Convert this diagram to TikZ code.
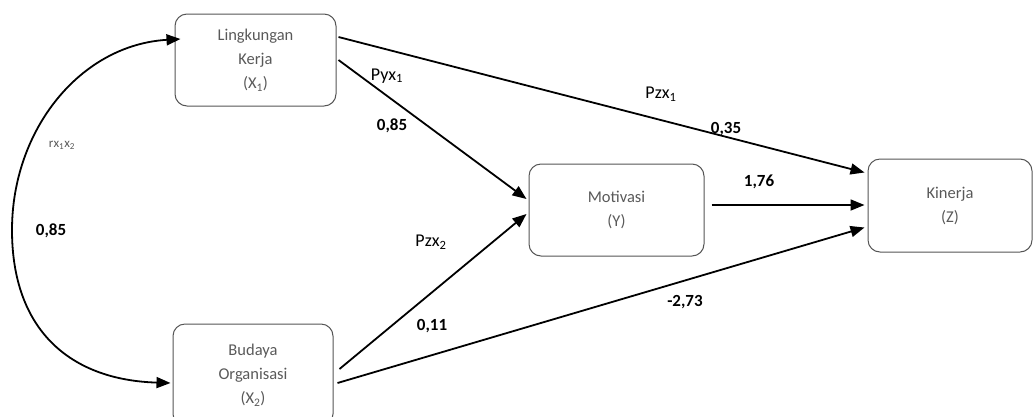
\documentclass[tikz,border=0pt]{standalone}
\usepackage{fontspec}
\setmainfont{Carlito}
\usetikzlibrary{arrows.meta}
\definecolor{boxline}{HTML}{555555}
\definecolor{boxtext}{HTML}{595959}
\begin{document}
\begin{tikzpicture}[x=1pt,y=-1pt,
  var/.style={draw=boxline,line width=1pt,rounded corners=12pt,align=center,
    text=boxtext,font=\fontsize{16.5}{24}\selectfont,inner sep=0pt},
  path/.style={line width=1.8pt,-{Triangle[length=14pt,width=11pt]}},
  coef/.style={font=\bfseries\fontsize{17}{20}\selectfont,inner sep=0pt},
  pname/.style={font=\fontsize{18}{20}\selectfont,inner sep=0pt}]
\useasboundingbox (0,0) rectangle (1033,416);
\node[var,minimum width=161pt,minimum height=92pt] (x1) at (255.5,60) {Lingkungan\\Kerja\\(X\textsubscript{1})};
\node[var,minimum width=160pt,minimum height=102pt] (x2) at (253,375) {Budaya\\Organisasi\\(X\textsubscript{2})};
\node[var,minimum width=175pt,minimum height=92pt] (y) at (616.5,210) {Motivasi\\(Y)};
\node[var,minimum width=164pt,minimum height=93pt] (z) at (950,205.5) {Kinerja\\(Z)};
% correlation curve
\draw[line width=1.8pt,{Triangle[length=14pt,width=11pt]}-{Triangle[length=14pt,width=11pt]}]
  ([xshift=6pt,yshift=21pt]x1.west) .. controls (80,45) and (12,130) .. (12,230)
  .. controls (12,330) and (70,380) .. ([xshift=-2pt,yshift=-8pt]x2.west);
% paths
\draw[path] ([xshift=2pt,yshift=23pt]x1.east) -- ([xshift=-3pt,yshift=33pt]z.west);
\draw[path] ([xshift=2pt]x1.east) -- ([xshift=-2pt,yshift=11pt]y.west);
\draw[path] ([xshift=6pt,yshift=6pt]x2.east) -- ([xshift=-2pt,yshift=-4pt]y.west);
\draw[path] ([xshift=4pt,yshift=-8pt]x2.east) -- ([xshift=-3pt,yshift=-22pt]z.west);
\coordinate (ys) at ([xshift=7pt,yshift=5pt]y.east);
\coordinate (ze) at ([xshift=-3pt,yshift=5pt]z.west);
\draw[path] (ys) -- (ys -| ze);
% labels
\node[pname] (lpyx1) at (387,76) {Pyx\textsubscript{1}};
\node[pname] (lpzx1) at (661,94) {Pzx\textsubscript{1}};
\node[pname] (lpzx2) at (431,242) {Pzx\textsubscript{2}};
\node[coef] (c1) at (392,126) {0,85};
\node[coef] (c2) at (726,129) {0,35};
\node[coef] (c3) at (759,182) {1,76};
\node[coef] (c4) at (685,302) {-2,73};
\node[coef] (c5) at (432,326) {0,11};
\node[coef] (c6) at (51,231) {0,85};
\node[font=\fontsize{13}{14}\selectfont,text=boxtext,inner sep=0pt] (r) at (62,145) {rx\textsubscript{1}x\textsubscript{2}};
\end{tikzpicture}
\end{document}
